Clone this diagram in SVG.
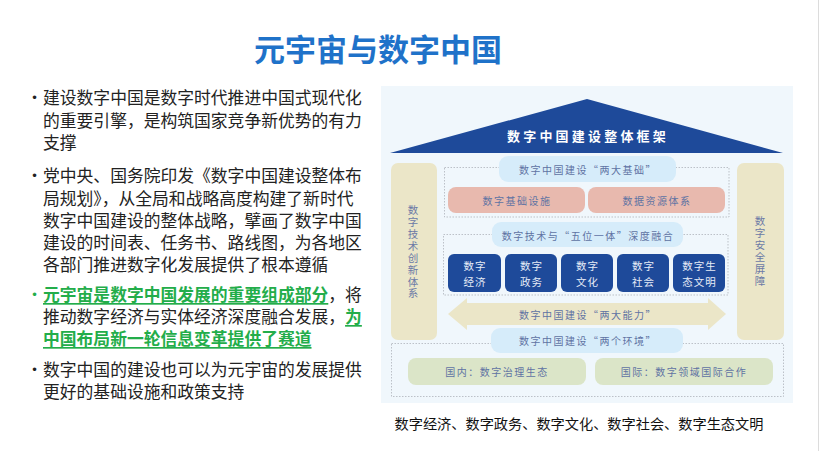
<svg xmlns="http://www.w3.org/2000/svg" width="822" height="451" viewBox="0 0 822 451">
<style>
text{font-family:"Noto Sans CJK SC","Noto Sans",sans-serif;}
.body{font-size:16.8px;fill:#222;dominant-baseline:central;}
.hl{fill:#23ad4a;font-weight:bold;text-decoration:underline;}
.bul{font-family:"Liberation Sans",sans-serif;font-size:13px;fill:#222;dominant-baseline:central;text-anchor:middle;}
.dg{font-size:10px;letter-spacing:1.5px;fill:#5f73a3;text-anchor:middle;dominant-baseline:central;}
.wt{font-size:10.5px;letter-spacing:1px;fill:#e6ecf7;text-anchor:middle;dominant-baseline:central;}
.vt{font-size:10.5px;letter-spacing:1.4px;fill:#6b7aa6;text-anchor:middle;writing-mode:vertical-rl;}
.pill{fill:#d6ecfa;}
.pink{fill:#e8b9ae;}
.blue{fill:#1e4a9a;}
.sand{fill:#ebe6c8;}
.green{fill:#dbe5c8;}
.dash{fill:none;stroke:#b5bac2;stroke-width:0.9;stroke-dasharray:1.5 1.5;}
</style>
<rect width="822" height="451" fill="#ffffff"/>
<line x1="818.5" y1="0" x2="818.5" y2="451" stroke="#dcdcdc" stroke-width="1"/>
<g id="title">
<text x="378" y="47" font-size="31" font-weight="bold" fill="#1f72c9" text-anchor="middle" dominant-baseline="central">元宇宙与数字中国</text>
</g>
<g id="bullets">
<text class="bul" x="34.5" y="97">•</text>
<text class="body" x="43" y="97">建设数字中国是数字时代推进中国式现代化</text>
<text class="body" x="43" y="119.5">的重要引擎，是构筑国家竞争新优势的有力</text>
<text class="body" x="43" y="142">支撑</text>
<text class="bul" x="34.5" y="175">•</text>
<text class="body" x="43" y="175">党中央、国务院印发《数字中国建设整体布</text>
<text class="body" x="43" y="197.5">局规划》，从全局和战略高度构建了新时代</text>
<text class="body" x="43" y="220">数字中国建设的整体战略，擘画了数字中国</text>
<text class="body" x="43" y="242">建设的时间表、任务书、路线图，为各地区</text>
<text class="body" x="43" y="264">各部门推进数字化发展提供了根本遵循</text>
<text class="bul" x="34.5" y="294" style="fill:#23ad4a">•</text>
<text class="body" x="43" y="294"><tspan class="hl">元宇宙是数字中国发展的重要组成部分</tspan>，将</text>
<text class="body" x="43" y="316">推动数字经济与实体经济深度融合发展，<tspan class="hl">为</tspan></text>
<text class="body" x="43" y="338"><tspan class="hl">中国布局新一轮信息变革提供了赛道</tspan></text>
<text class="bul" x="34.5" y="369">•</text>
<text class="body" x="43" y="369">数字中国的建设也可以为元宇宙的发展提供</text>
<text class="body" x="43" y="391">更好的基础设施和政策支持</text>
</g>
<g id="framework">
<rect x="381" y="86" width="412" height="317" fill="#f0f7fc"/>
<g id="roof">
<polygon points="587,99 390,153 783,153" class="blue"/>
<text x="588" y="135" font-size="13" font-weight="bold" letter-spacing="3.2" fill="#ffffff" text-anchor="middle" dominant-baseline="central">数字中国建设整体框架</text>
</g>
<g id="pillar-left">
<rect x="391" y="163" width="46" height="177" rx="7" class="sand"/>
<text class="vt" x="413" y="252.5">数字技术创新体系</text>
</g>
<g id="pillar-right">
<rect x="737" y="163" width="47" height="177" rx="7" class="sand"/>
<text class="vt" x="760" y="251.5">数字安全屏障</text>
</g>
<g id="foundation">
<rect x="444.5" y="167.5" width="284.5" height="49.5" class="dash"/>
<rect x="499" y="156" width="177" height="26" rx="9" class="pill"/>
<text class="dg" x="588" y="169">数字中国建设“两大基础”</text>
<g id="infra">
<rect x="448" y="187" width="137" height="26" rx="8" class="pink"/>
<text class="dg" x="517" y="200">数字基础设施</text>
</g>
<g id="data">
<rect x="588" y="187" width="137" height="26" rx="8" class="pink"/>
<text class="dg" x="657" y="200">数据资源体系</text>
</g>
</g>
<g id="fiveinone">
<rect x="443.5" y="234.5" width="284.5" height="60.5" class="dash"/>
<rect x="492" y="222" width="191" height="25" rx="9" class="pill"/>
<text class="dg" x="588" y="235">数字技术与“五位一体”深度融合</text>
<g id="econ">
<rect x="448" y="254" width="53" height="38" rx="6" class="blue"/>
<text class="wt" x="475" y="265">数字</text>
<text class="wt" x="475" y="281">经济</text>
</g>
<g id="gov">
<rect x="505" y="254" width="52" height="38" rx="6" class="blue"/>
<text class="wt" x="531.5" y="265">数字</text>
<text class="wt" x="531.5" y="281">政务</text>
</g>
<g id="culture">
<rect x="561" y="254" width="52" height="38" rx="6" class="blue"/>
<text class="wt" x="587.5" y="265">数字</text>
<text class="wt" x="587.5" y="281">文化</text>
</g>
<g id="society">
<rect x="617" y="254" width="52" height="38" rx="6" class="blue"/>
<text class="wt" x="643.5" y="265">数字</text>
<text class="wt" x="643.5" y="281">社会</text>
</g>
<g id="eco">
<rect x="673" y="254" width="52" height="38" rx="6" class="blue"/>
<text class="wt" x="699.5" y="265">数字生</text>
<text class="wt" x="699.5" y="281">态文明</text>
</g>
</g>
<g id="capability">
<polygon points="448,314 467,298 467,303 708,303 708,298 726,314 708,330 708,325 467,325 467,330" class="sand"/>
<text class="dg" x="588" y="314">数字中国建设“两大能力”</text>
</g>
<g id="environment">
<rect x="391.5" y="343.5" width="392" height="53" class="dash"/>
<rect x="491" y="328" width="192" height="25" rx="9" class="pill"/>
<text class="dg" x="588" y="340.5">数字中国建设“两个环境”</text>
<g id="domestic">
<rect x="408" y="358" width="178" height="27" rx="8" class="green"/>
<text class="dg" x="497" y="371.5">国内：数字治理生态</text>
</g>
<g id="intl">
<rect x="595" y="358" width="178" height="27" rx="8" class="green"/>
<text class="dg" x="684" y="371.5">国际：数字领域国际合作</text>
</g>
</g>
</g>
<g id="caption">
<text x="579" y="423" font-size="14.2" fill="#111" text-anchor="middle" dominant-baseline="central">数字经济、数字政务、数字文化、数字社会、数字生态文明</text>
</g>
</svg>
